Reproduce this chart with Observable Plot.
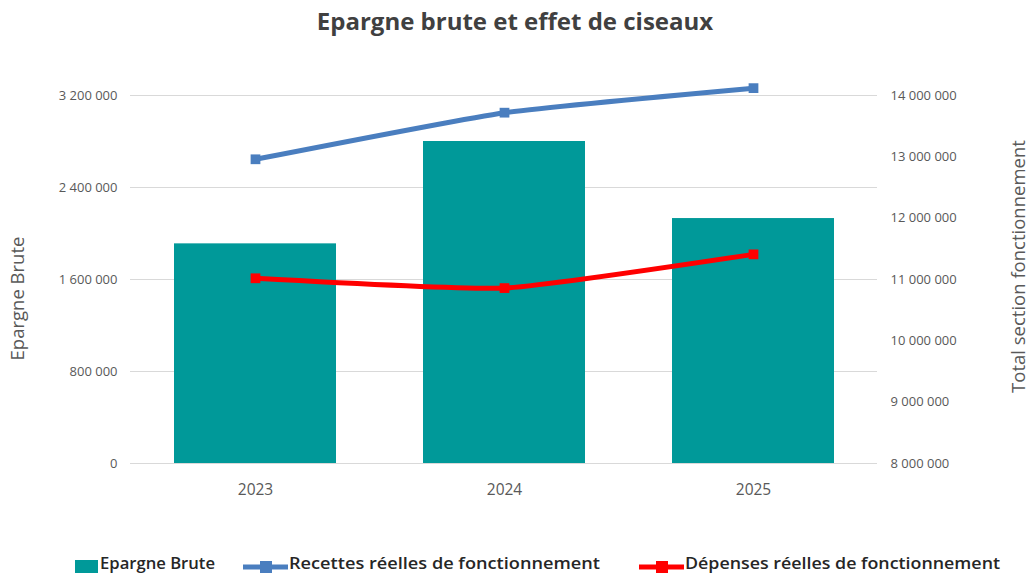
<!DOCTYPE html>
<html>
<head>
<meta charset="utf-8">
<script src="https://cdn.jsdelivr.net/npm/d3@7"></script>
<script src="https://cdn.jsdelivr.net/npm/@observablehq/plot@0.6"></script>
<style>
  html, body { margin: 0; padding: 0; background: #fff; }
  #wrap { position: relative; width: 1030px; height: 576px; overflow: hidden; font-family: "Open Sans", sans-serif; }
  #title { position: absolute; left: 0; top: 4px; width: 1030px; text-align: center; font-weight: 700; font-size: 24px; color: #404040; }
  #chart { position: absolute; left: 0; top: 50px; }
  .leg { position: absolute; top: 551px; font-family: "Open Sans", sans-serif; font-weight: 600; font-size: 17px; color: #262626; white-space: nowrap; transform-origin: left top; }
  .sw { position: absolute; }
</style>
</head>
<body>
<div id="wrap">
  <div id="title">Epargne brute et effet de ciseaux</div>
  <div id="chart"></div>
  <div id="legend"></div>
</div>
<script>
// ---- Data ----
const years = ["2023", "2024", "2025"];
const epargneBrute = [1910000, 2800000, 2130000];
const recettes = [12960000, 13720000, 14120000];
const depenses = [11020000, 10860000, 11410000];
const leftTicks = [0, 800000, 1600000, 2400000, 3200000];
const rightTicks = [8000000, 9000000, 10000000, 11000000, 12000000, 13000000, 14000000];
const seriesNames = ["Epargne Brute", "Recettes réelles de fonctionnement", "Dépenses réelles de fonctionnement"];

// ---- Dual-axis mapping (right axis 8M..14M onto left axis 0..3.2M) ----
const L0 = 0, L1 = 3200000, R0 = 8000000, R1 = 14000000;
const toLeft = v => L0 + (v - R0) / (R1 - R0) * (L1 - L0);
const fromLeft = v => Math.round(R0 + (v - L0) / (L1 - L0) * (R1 - R0));
const fmt = v => d3.format(",")(v).replace(/,/g, "\u00a0");

const bars = years.map((y, i) => ({year: y, value: epargneBrute[i]}));
const lineR = years.map((y, i) => ({year: y, value: toLeft(recettes[i])}));
const lineD = years.map((y, i) => ({year: y, value: toLeft(depenses[i])}));

const teal = "#009999", blue = "#4a7ebf", red = "#ff0000", gridC = "#d9d9d9", tickC = "#595959";
const smooth = d3.curveCardinal.tension(0.55);

const plot = Plot.plot({
  width: 1030,
  height: 475,
  marginTop: 45,
  marginBottom: 62,
  marginLeft: 130,
  marginRight: 153,
  style: {fontFamily: "Open Sans, sans-serif", background: "transparent"},
  x: {domain: years, paddingInner: 0.35, paddingOuter: 0.175, label: null},
  y: {domain: [L0, L1], label: null},
  marks: [
    Plot.ruleY(leftTicks, {stroke: gridC, strokeWidth: 1.2}),
    Plot.barY(bars, {x: "year", y: "value", fill: teal}),
    Plot.line(lineR, {x: "year", y: "value", stroke: blue, strokeWidth: 5, curve: smooth}),
    Plot.dot(lineR, {x: "year", y: "value", symbol: "square", fill: blue, r: 5.5}),
    Plot.line(lineD, {x: "year", y: "value", stroke: red, strokeWidth: 5, curve: smooth}),
    Plot.dot(lineD, {x: "year", y: "value", symbol: "square", fill: red, r: 5.5}),
    Plot.axisX({tickSize: 0, tickPadding: 20, fontSize: 15.5, color: tickC, label: null}),
    Plot.axisY(leftTicks, {anchor: "left", tickSize: 0, tickPadding: 13, fontSize: 13, color: tickC, tickFormat: fmt, label: null}),
    Plot.axisY(rightTicks.map(toLeft), {anchor: "right", tickSize: 0, tickPadding: 13, fontSize: 13, color: tickC, tickFormat: d => fmt(fromLeft(d)), label: null}),
    Plot.text([seriesNames[0]], {frameAnchor: "left", textAnchor: "middle", dx: -112, dy: 19, rotate: -90, fontSize: 18.5, fill: tickC, text: d => d}),
    Plot.text(["Total section fonctionnement"], {frameAnchor: "right", textAnchor: "middle", dx: 142, dy: -13, rotate: -90, fontSize: 18.5, fill: tickC, text: d => d})
  ]
});
document.getElementById("chart").appendChild(plot);

// ---- Legend ----
const legend = document.getElementById("legend");
const items = [
  {name: seriesNames[0], kind: "bar", color: teal, sx: 75, tx: 100, w: 115},
  {name: seriesNames[1], kind: "line", color: blue, sx: 243, tx: 289, w: 311},
  {name: seriesNames[2], kind: "line", color: red, sx: 639, tx: 685, w: 315}
];
for (const it of items) {
  const sw = document.createElementNS("http://www.w3.org/2000/svg", "svg");
  sw.setAttribute("class", "sw");
  sw.setAttribute("width", 46);
  sw.setAttribute("height", 20);
  sw.style.left = it.sx + "px";
  sw.style.top = "557px";
  if (it.kind === "bar") {
    sw.innerHTML = `<rect x="0" y="3" width="23" height="13" fill="${it.color}"/>`;
  } else {
    sw.innerHTML = `<line x1="0" y1="10" x2="45" y2="10" stroke="${it.color}" stroke-width="5"/><rect x="17" y="4" width="12" height="12" fill="${it.color}"/>`;
  }
  legend.appendChild(sw);
  const t = document.createElement("div");
  t.className = "leg";
  t.style.left = it.tx + "px";
  t.textContent = it.name;
  legend.appendChild(t);
  const actual = t.getBoundingClientRect().width;
  if (actual > 0) t.style.transform = `scaleX(${it.w / actual})`;
}
</script>
</body>
</html>
